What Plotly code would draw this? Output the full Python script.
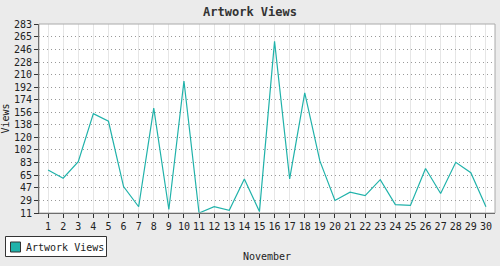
import plotly.graph_objects as go

days = list(range(1, 31))
views = [73, 61, 85, 154, 143, 49, 20, 162, 16, 201,
         11, 20, 15, 60, 13, 258, 60, 184, 86, 29,
         41, 36, 59, 23, 22, 75, 39, 84, 69, 20]
ytick_vals = [11, 29, 47, 65, 83, 102, 120, 138, 156, 174, 192, 210, 228, 246, 265, 283]
series_name = "Artwork Views"
chart_title = "Artwork Views"
x_title = "November"
y_title = "Views"

font_family = "DejaVu Sans Mono, Liberation Mono, monospace"
teal = "#20b2aa"

W, H = 500, 266
ML, MR, MT, MB = 39, 5, 24, 53
PW, PH = W - ML - MR, H - MT - MB


def px_x(x):
    return (x - ML) / PW


def px_y(y):
    return (H - MB - y) / PH


fig = go.Figure()
fig.add_trace(go.Scatter(
    x=days, y=views, mode="lines", name=series_name,
    line=dict(color=teal, width=1.2), showlegend=False,
))

fig.update_layout(
    width=W, height=H,
    margin=dict(l=ML, r=MR, t=MT, b=MB, autoexpand=False),
    paper_bgcolor="#ebebeb",
    plot_bgcolor="#ffffff",
    font=dict(family=font_family, size=10, color="#222222"),
    title=dict(text="<b>" + chart_title + "</b>", x=0.5, xanchor="center",
               y=1 - 12 / H, yanchor="middle",
               font=dict(family=font_family, size=12, color="#333333")),
    showlegend=False,
    shapes=[
        dict(type="rect", xref="paper", yref="paper", x0=0, x1=1, y0=0, y1=1,
             line=dict(color="#aaaaaa", width=1), layer="above"),
        # legend box
        dict(type="rect", xref="paper", yref="paper",
             x0=px_x(5.5), x1=px_x(106.5), y0=px_y(256.5), y1=px_y(236.5),
             line=dict(color="#333333", width=1), fillcolor="#ffffff", layer="above"),
        # legend swatch
        dict(type="rect", xref="paper", yref="paper",
             x0=px_x(10.5), x1=px_x(20.5), y0=px_y(252), y1=px_y(242),
             line=dict(color="#333333", width=1), fillcolor=teal, layer="above"),
    ],
    annotations=[
        dict(text=series_name, xref="paper", yref="paper",
             x=px_x(24), y=px_y(247), xanchor="left", yanchor="middle",
             showarrow=False, font=dict(family=font_family, size=10, color="#222222")),
    ],
)
fig.update_xaxes(
    range=[0.4, 30.6], tickmode="array", tickvals=days,
    ticktext=[str(d) for d in days], automargin=True,
    showgrid=True, gridcolor="#e6e6e6", gridwidth=1,
    showline=True, linecolor="#333333", linewidth=1,
    ticks="outside", ticklen=4, tickcolor="#333333",
    tickfont=dict(size=10), zeroline=False,
    title=dict(text=x_title, standoff=21, font=dict(size=10)),
)
fig.update_yaxes(
    range=[11, 283], tickmode="array", tickvals=ytick_vals,
    ticktext=[str(v) for v in ytick_vals], automargin=True,
    showgrid=True, gridcolor="#999999", griddash="1px,3px", gridwidth=1,
    showline=True, linecolor="#333333", linewidth=1,
    ticks="outside", ticklen=4, tickcolor="#333333",
    tickfont=dict(size=10), zeroline=False,
    title=dict(text=y_title, standoff=3, font=dict(size=10)),
)

fig.write_html("out.html")
